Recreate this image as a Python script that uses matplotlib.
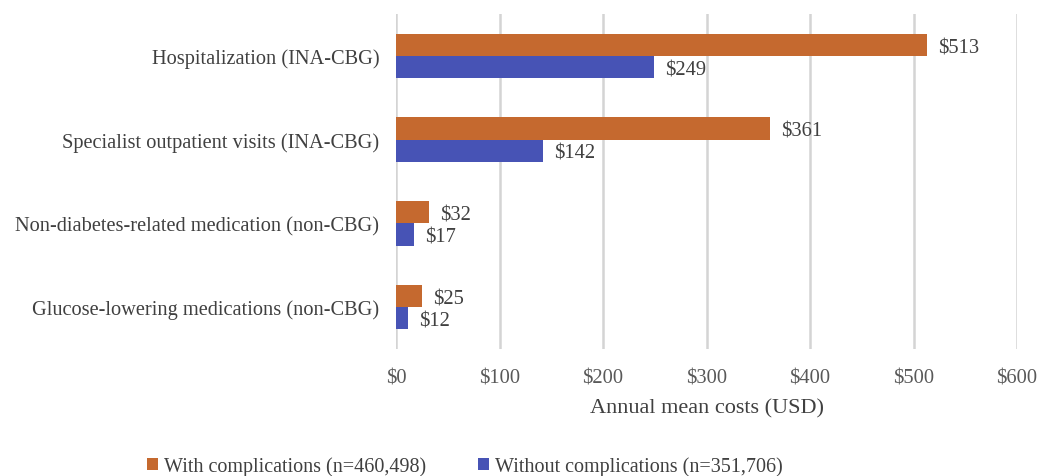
import matplotlib
matplotlib.use("Agg")
import matplotlib.pyplot as plt
import numpy as np

categories = ["Hospitalization (INA-CBG)",
              "Specialist outpatient visits (INA-CBG)",
              "Non-diabetes-related medication (non-CBG)",
              "Glucose-lowering medications (non-CBG)"]
with_comp = [513, 361, 32, 25]
without_comp = [249, 142, 17, 12]
series_names = ["With complications (n=460,498)", "Without complications (n=351,706)"]
xticks = [0, 100, 200, 300, 400, 500, 600]

plt.rcParams['font.family'] = ['Liberation Serif', 'DejaVu Serif']

orange = "#C5692F"
blue = "#4753B5"
textc = "#404040"

fig = plt.figure(figsize=(10.37, 4.77), dpi=100)
ax = fig.add_axes([396/1037, 1-350/477, (1017-396)/1037, (350-15)/477])

y = np.arange(len(categories))
h = 0.265
b1 = ax.barh(y - h/2, with_comp, height=h, color=orange, label=series_names[0], zorder=3)
b2 = ax.barh(y + h/2, without_comp, height=h, color=blue, label=series_names[1], zorder=3)

for rect, v in zip(b1, with_comp):
    ax.annotate(f"${v}", (v, rect.get_y() + rect.get_height()/2), xytext=(8, -2),
                textcoords="offset points", va="center", ha="left", fontsize=14.8, color=textc)
for rect, v in zip(b2, without_comp):
    ax.annotate(f"${v}", (v, rect.get_y() + rect.get_height()/2), xytext=(8, -2),
                textcoords="offset points", va="center", ha="left", fontsize=14.8, color=textc)

ax.set_ylim(3.5, -0.5)
ax.set_xlim(0, 600)
ax.set_xticks(xticks)
ax.set_xticklabels([f"${t}" for t in xticks], fontsize=14.8, color="#595959")
ax.set_yticks(y)
ax.set_yticklabels(categories, fontsize=14.7, color=textc)
ax.tick_params(axis='both', length=0)
ax.tick_params(axis='x', pad=14)
ax.tick_params(axis='y', pad=12)
for s in ax.spines.values():
    s.set_visible(False)
ax.grid(axis='x', color="#D4D4D4", linewidth=1.8, zorder=0)
ax.set_xlabel("Annual mean costs (USD)", fontsize=16, color=textc, labelpad=8)

fig.legend(handles=[b1, b2], labels=series_names, loc="center",
           bbox_to_anchor=(465/1037, 1-467/477), ncol=2, frameon=False,
           fontsize=14.5, handlelength=0.55, handleheight=0.55, handletextpad=0.3,
           columnspacing=2.6, labelcolor=textc)

fig.savefig("out.png", dpi=100)
